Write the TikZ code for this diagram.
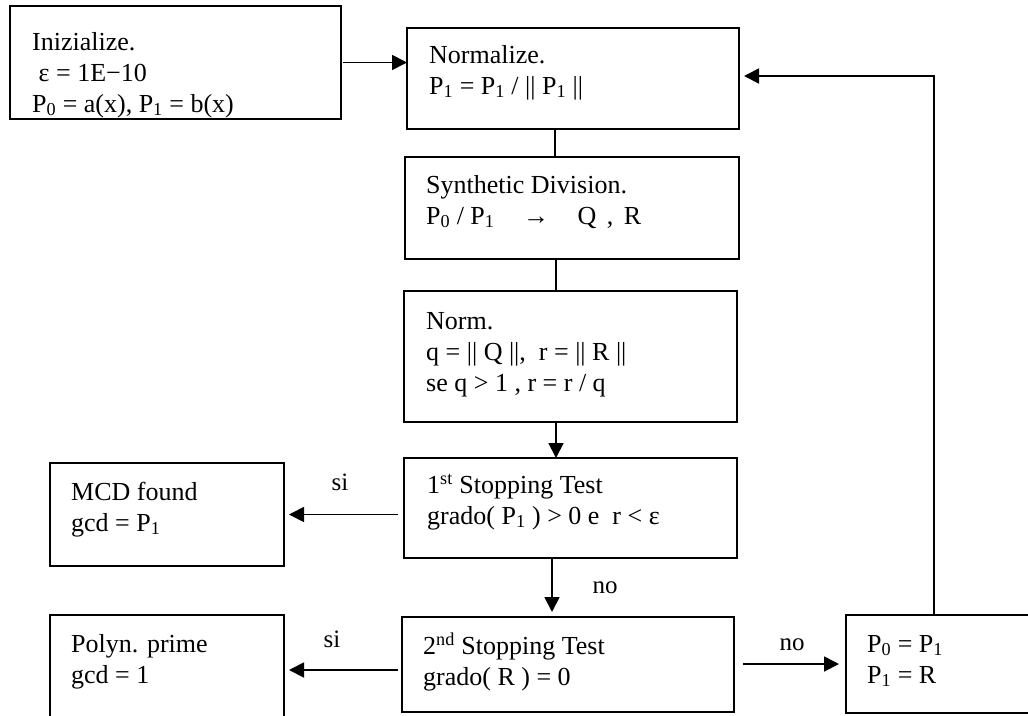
\documentclass[tikz,border=0pt]{standalone}
\usepackage{fontspec}
\setmainfont{Liberation Serif}
\usetikzlibrary{arrows.meta,calc}
\begin{document}
\begin{tikzpicture}[x=1pt,y=-1pt,
  box/.style={draw,line width=1.8pt,rectangle,inner sep=0pt,outer sep=0pt},
  txt/.style={anchor=north west,inner sep=0pt,align=left,font=\fontsize{26}{31}\selectfont},
  lbl/.style={anchor=base,inner sep=0pt,font=\fontsize{25}{30}\selectfont},
  con/.style={line width=1.8pt},
  arr/.style={line width=1.8pt,-{Triangle[length=15pt,width=15pt]}}]
\useasboundingbox (0,0) rectangle (1028,715);
\clip (0,0) rectangle (1028,715);
% boxes
\node[box,minimum width=331pt,minimum height=113pt] (init) at (175.5,62.5) {};
\node[box,minimum width=332pt,minimum height=101pt] (nrm) at (573,78.5) {};
\node[box,minimum width=334pt,minimum height=102pt] (syn) at (572,208) {};
\node[box,minimum width=333pt,minimum height=131pt] (nrq) at (570.5,356.5) {};
\node[box,minimum width=333pt,minimum height=100pt] (st1) at (570.5,508) {};
\node[box,minimum width=332pt,minimum height=95pt] (st2) at (568,664.5) {};
\node[box,minimum width=234pt,minimum height=103pt] (mcd) at (167,514.5) {};
\node[box,minimum width=234pt,minimum height=110pt] (pol) at (167,670) {};
\node[box,minimum width=199pt,minimum height=98pt] (rb) at (945.5,664) {};
% texts
\node[txt] (tinit) at (32,30) {\rule{0pt}{20pt}Inizialize.\\\ ε = 1E−10\\P\textsubscript{0} = a(x), P\textsubscript{1} = b(x)};
\node[txt] (tnrm) at (429,43) {\rule{0pt}{20pt}Normalize.\\P\textsubscript{1} = P\textsubscript{1} / || P\textsubscript{1} ||};
\node[txt] (tsyn) at (426,173) {\rule{0pt}{20pt}Synthetic Division.\\P\textsubscript{0} / P\textsubscript{1}\hspace{1.1em}→\hspace{1.1em}Q\hspace{0.4em},\hspace{0.4em}R};
\node[txt] (tnrq) at (426,309) {\rule{0pt}{20pt}Norm.\\q = || Q ||,\ \ r = || R ||\\se q > 1 , r = r / q};
\node[txt] (tst1) at (427,473) {\rule{0pt}{20pt}1\textsuperscript{st} Stopping Test\\grado( P\textsubscript{1} ) > 0 e\ \ r < ε};
\node[txt] (tst2) at (423,633) {\rule{0pt}{20pt}2\textsuperscript{nd} Stopping Test\\grado( R ) = 0};
\node[txt] (tmcd) at (71,480) {\rule{0pt}{20pt}MCD found\\gcd = P\textsubscript{1}};
\node[txt] (tpol) at (71,632) {\rule{0pt}{20pt}Polyn. prime\\gcd = 1};
\node[txt] (trb) at (867,632) {\rule{0pt}{20pt}P\textsubscript{0} = P\textsubscript{1}\\P\textsubscript{1} = R};
% connectors
\coordinate (c1) at (555,0);
\coordinate (c2) at (556,0);
\coordinate (c3) at (552,0);
\coordinate (rt) at (934,0);
\draw[arr,shorten <=2pt] (init.east) -- (init.east -| nrm.west);
\draw[con] (nrm.south -| c1) -- (syn.north -| c1);
\draw[con] (syn.south -| c2) -- (nrq.north -| c2);
\draw[arr] (nrq.south -| c2) -- (st1.north -| c2);
\draw[arr,shorten >=5pt] (st1.south -| c3) -- (st2.north -| c3);
\draw[arr,shorten <=6pt,shorten >=5pt] (st1.west |- mcd.east) -- (mcd.east);
\draw[arr,shorten <=4pt,shorten >=5pt] (st2.west |- pol.east) -- (pol.east);
\draw[arr,shorten <=9pt,shorten >=7pt] (st2.east |- rb.west) -- (rb.west);
\draw[arr,shorten >=5pt] (rb.north -| rt) -- ([yshift=2.5pt]nrm.east -| rt) -- ([yshift=2.5pt]nrm.east);
% labels
\node[lbl] (l1) at (340,490) {si};
\node[lbl] (l2) at (332,647) {si};
\node[lbl] (l3) at (605,593) {no};
\node[lbl] (l4) at (792,650) {no};
\end{tikzpicture}
\end{document}
